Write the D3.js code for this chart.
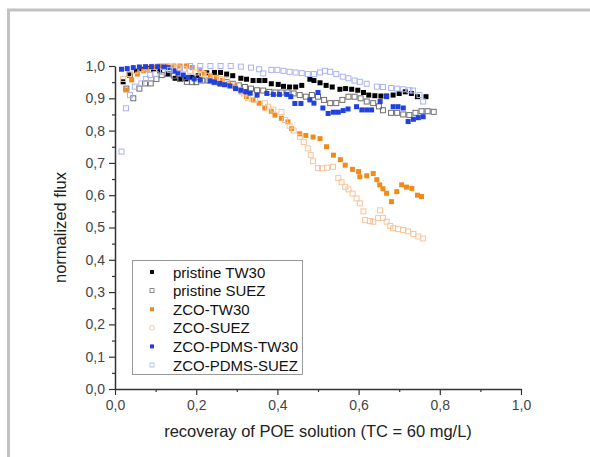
<!DOCTYPE html>
<html>
<head>
<meta charset="utf-8">
<script src="https://cdn.jsdelivr.net/npm/d3@7"></script>
<style>
  body { margin: 0; background: #fff; }
  svg { display: block; font-family: "Liberation Sans", Arial, sans-serif; }
</style>
</head>
<body>
<svg id="chart" width="590" height="457"></svg>
<script>
// tick values
const xTicks = [0, 0.2, 0.4, 0.6, 0.8, 1.0];
const yTicks = [0, 0.1, 0.2, 0.3, 0.4, 0.5, 0.6, 0.7, 0.8, 0.9, 1.0];

// series values, [recovery, normalized flux]
const pristineTW30 = [[0.02,0.951],[0.035,0.975],[0.053,0.985],[0.065,0.99],[0.08,0.993],[0.095,0.99],[0.11,0.985],[0.13,0.975],[0.148,0.962],[0.162,0.96],[0.175,0.96],[0.19,0.965],[0.205,0.97],[0.226,0.979],[0.245,0.98],[0.26,0.98],[0.275,0.975],[0.29,0.97],[0.31,0.962],[0.324,0.959],[0.34,0.955],[0.355,0.955],[0.369,0.955],[0.385,0.945],[0.402,0.943],[0.415,0.937],[0.43,0.935],[0.445,0.935],[0.46,0.94],[0.48,0.959],[0.49,0.955],[0.505,0.948],[0.52,0.94],[0.535,0.935],[0.554,0.928],[0.568,0.93],[0.583,0.928],[0.598,0.925],[0.612,0.918],[0.625,0.91],[0.64,0.908],[0.655,0.907],[0.669,0.907],[0.685,0.91],[0.7,0.915],[0.715,0.92],[0.73,0.915],[0.745,0.905],[0.766,0.905]];
const pristineSUEZ = [[0.028,0.93],[0.037,0.972],[0.045,0.9],[0.06,0.93],[0.074,0.946],[0.088,0.946],[0.102,0.96],[0.115,0.972],[0.13,0.975],[0.145,0.97],[0.16,0.96],[0.177,0.951],[0.19,0.95],[0.2,0.95],[0.215,0.955],[0.23,0.955],[0.245,0.95],[0.26,0.945],[0.275,0.95],[0.29,0.945],[0.305,0.94],[0.32,0.935],[0.335,0.93],[0.35,0.925],[0.365,0.924],[0.38,0.92],[0.395,0.918],[0.41,0.918],[0.425,0.918],[0.44,0.915],[0.455,0.91],[0.47,0.905],[0.485,0.91],[0.5,0.905],[0.515,0.895],[0.53,0.885],[0.545,0.885],[0.56,0.895],[0.575,0.905],[0.59,0.905],[0.605,0.9],[0.62,0.89],[0.636,0.885],[0.65,0.875],[0.66,0.863],[0.68,0.855],[0.695,0.855],[0.71,0.85],[0.725,0.848],[0.74,0.855],[0.755,0.86],[0.77,0.86],[0.785,0.858]];
const zcoTW30 = [[0.027,0.926],[0.041,0.957],[0.055,0.975],[0.07,0.985],[0.081,0.99],[0.1,0.995],[0.115,0.998],[0.13,1.0],[0.145,1.0],[0.16,1.0],[0.176,1.0],[0.19,0.995],[0.209,0.988],[0.22,0.978],[0.235,0.97],[0.25,0.965],[0.265,0.955],[0.28,0.945],[0.295,0.935],[0.31,0.92],[0.324,0.905],[0.34,0.895],[0.355,0.885],[0.369,0.87],[0.385,0.86],[0.394,0.848],[0.41,0.838],[0.426,0.827],[0.435,0.806],[0.455,0.79],[0.47,0.785],[0.488,0.78],[0.505,0.775],[0.521,0.75],[0.538,0.724],[0.555,0.71],[0.567,0.693],[0.585,0.68],[0.6,0.673],[0.603,0.657],[0.62,0.66],[0.636,0.667],[0.645,0.648],[0.652,0.632],[0.66,0.62],[0.669,0.606],[0.681,0.58],[0.694,0.611],[0.706,0.632],[0.718,0.625],[0.731,0.621],[0.745,0.6],[0.755,0.596]];
const zcoSUEZ = [[0.02,0.96],[0.035,0.975],[0.05,0.985],[0.065,0.99],[0.08,0.995],[0.095,0.998],[0.11,1.0],[0.125,1.0],[0.14,0.998],[0.155,0.995],[0.17,0.99],[0.185,0.985],[0.2,0.98],[0.215,0.975],[0.23,0.97],[0.246,0.962],[0.26,0.96],[0.275,0.957],[0.296,0.94],[0.31,0.925],[0.318,0.915],[0.328,0.9],[0.345,0.895],[0.369,0.885],[0.377,0.874],[0.39,0.865],[0.41,0.858],[0.419,0.833],[0.43,0.815],[0.44,0.8],[0.456,0.781],[0.465,0.765],[0.475,0.745],[0.482,0.725],[0.488,0.705],[0.5,0.684],[0.51,0.683],[0.522,0.685],[0.537,0.688],[0.55,0.653],[0.558,0.64],[0.567,0.626],[0.575,0.618],[0.585,0.605],[0.595,0.59],[0.603,0.575],[0.612,0.55],[0.616,0.523],[0.628,0.52],[0.636,0.518],[0.648,0.529],[0.653,0.553],[0.66,0.53],[0.669,0.518],[0.678,0.505],[0.685,0.498],[0.697,0.495],[0.71,0.492],[0.722,0.488],[0.735,0.48],[0.747,0.472],[0.759,0.466]];
const zcoPdmsTW30 = [[0.016,0.99],[0.03,0.992],[0.045,0.995],[0.06,0.997],[0.075,0.998],[0.09,0.998],[0.105,0.998],[0.12,0.997],[0.131,0.995],[0.145,0.985],[0.155,0.978],[0.168,0.972],[0.18,0.965],[0.195,0.96],[0.21,0.957],[0.234,0.954],[0.245,0.95],[0.258,0.946],[0.27,0.942],[0.283,0.938],[0.297,0.93],[0.31,0.925],[0.322,0.92],[0.333,0.916],[0.35,0.91],[0.374,0.915],[0.39,0.912],[0.405,0.912],[0.423,0.912],[0.433,0.905],[0.443,0.884],[0.458,0.884],[0.48,0.895],[0.49,0.885],[0.5,0.918],[0.512,0.87],[0.525,0.853],[0.538,0.857],[0.55,0.857],[0.562,0.862],[0.574,0.867],[0.595,0.874],[0.608,0.864],[0.62,0.864],[0.632,0.864],[0.653,0.89],[0.669,0.905],[0.685,0.874],[0.697,0.874],[0.71,0.87],[0.722,0.828],[0.735,0.835],[0.747,0.84],[0.759,0.843]];
const zcoPdmsSUEZ = [[0.016,0.735],[0.027,0.869],[0.037,0.91],[0.049,0.936],[0.065,0.946],[0.076,0.96],[0.086,0.972],[0.1,0.975],[0.118,0.982],[0.135,0.988],[0.16,0.993],[0.185,1.0],[0.21,1.0],[0.235,1.0],[0.26,1.0],[0.285,1.0],[0.31,0.998],[0.335,0.995],[0.355,0.99],[0.365,0.977],[0.385,0.988],[0.4,0.988],[0.415,0.985],[0.43,0.982],[0.445,0.98],[0.46,0.978],[0.475,0.975],[0.49,0.975],[0.505,0.98],[0.517,0.985],[0.53,0.982],[0.545,0.975],[0.561,0.967],[0.575,0.962],[0.59,0.955],[0.603,0.951],[0.62,0.945],[0.645,0.936],[0.66,0.935],[0.68,0.932],[0.695,0.93],[0.71,0.928],[0.725,0.925],[0.734,0.924],[0.75,0.91],[0.759,0.89]];

const seriesNames = ['pristine TW30', 'pristine SUEZ', 'ZCO-TW30', 'ZCO-SUEZ', 'ZCO-PDMS-TW30', 'ZCO-PDMS-SUEZ'];
const seriesData = [pristineTW30, pristineSUEZ, zcoTW30, zcoSUEZ, zcoPdmsTW30, zcoPdmsSUEZ];
const seriesColors = ['#000000', '#6e6e6e', '#f28a1a', '#f6c49a', '#2040e0', '#aab4f2'];
const seriesFilled = [true, false, true, false, true, false];

const svg = d3.select('#chart');

// outer frame
svg.append('rect')
  .attr('x', 8.5).attr('y', 10)
  .attr('width', 600).attr('height', 470)
  .attr('fill', 'none')
  .attr('stroke', '#c2c2c2')
  .attr('stroke-width', 3);

const x = d3.scaleLinear().domain([0, 1]).range([115, 521]);
const y = d3.scaleLinear().domain([0, 1]).range([389, 66]);
const comma = d => d3.format('.1f')(d).replace('.', ',');

// minor ticks
svg.append('g')
  .attr('transform', `translate(0,${y(0)})`)
  .call(d3.axisBottom(x).tickValues(d3.range(0.1, 1, 0.2)).tickSize(3).tickFormat(''))
  .call(g => g.select('.domain').remove());
svg.append('g')
  .attr('transform', `translate(${x(0)},0)`)
  .call(d3.axisLeft(y).tickValues(d3.range(0.05, 1, 0.1)).tickSize(3).tickFormat(''))
  .call(g => g.select('.domain').remove());

const xAxis = svg.append('g')
  .attr('transform', `translate(0,${y(0)})`)
  .call(d3.axisBottom(x).tickValues(xTicks).tickSize(6).tickSizeOuter(0).tickPadding(5).tickFormat(comma));
const yAxis = svg.append('g')
  .attr('transform', `translate(${x(0)},0)`)
  .call(d3.axisLeft(y).tickValues(yTicks).tickSize(6).tickSizeOuter(0).tickPadding(4).tickFormat(comma));

svg.selectAll('.tick line').attr('stroke', '#333').attr('stroke-width', 1.2);
[xAxis, yAxis].forEach(a => {
  a.select('.domain').attr('stroke', '#333').attr('stroke-width', 1.5);
  a.selectAll('text').attr('fill', '#444').style('font-size', '14px')
    .style('font-family', '"Liberation Sans", Arial, sans-serif');
});

// axis titles
svg.append('text')
  .attr('x', 318).attr('y', 437)
  .attr('text-anchor', 'middle')
  .attr('fill', '#222')
  .style('font-size', '16.5px')
  .text('recoveray of POE solution (TC = 60 mg/L)');
svg.append('text')
  .attr('transform', `translate(66,${y(0.5)}) rotate(-90)`)
  .attr('text-anchor', 'middle')
  .attr('fill', '#222')
  .style('font-size', '16.5px')
  .text('normalized flux');

// points
const S = 5;
seriesData.forEach((data, i) => {
  svg.append('g').selectAll('rect')
    .data(data)
    .join('rect')
    .attr('x', d => x(d[0]) - S / 2)
    .attr('y', d => y(d[1]) - S / 2)
    .attr('width', S).attr('height', S)
    .attr('fill', seriesFilled[i] ? seriesColors[i] : 'none')
    .attr('stroke', seriesFilled[i] ? 'none' : seriesColors[i])
    .attr('stroke-width', 1);
});

// legend
const legend = svg.append('g');
legend.append('rect')
  .attr('x', 132.5).attr('y', 260.5)
  .attr('width', 170).attr('height', 114)
  .attr('fill', '#fff')
  .attr('stroke', '#999');
const LS = 4;
seriesNames.forEach((name, i) => {
  const cy = 272 + i * 18.6;
  legend.append('rect')
    .attr('x', 152 - LS / 2).attr('y', cy - LS / 2)
    .attr('width', LS).attr('height', LS)
    .attr('fill', seriesFilled[i] ? seriesColors[i] : 'none')
    .attr('stroke', seriesFilled[i] ? 'none' : seriesColors[i])
    .attr('stroke-width', 0.8);
  legend.append('text')
    .attr('x', 173).attr('y', cy + 5.5)
    .attr('fill', '#111')
    .style('font-size', '15px')
    .text(name);
});
</script>
</body>
</html>
